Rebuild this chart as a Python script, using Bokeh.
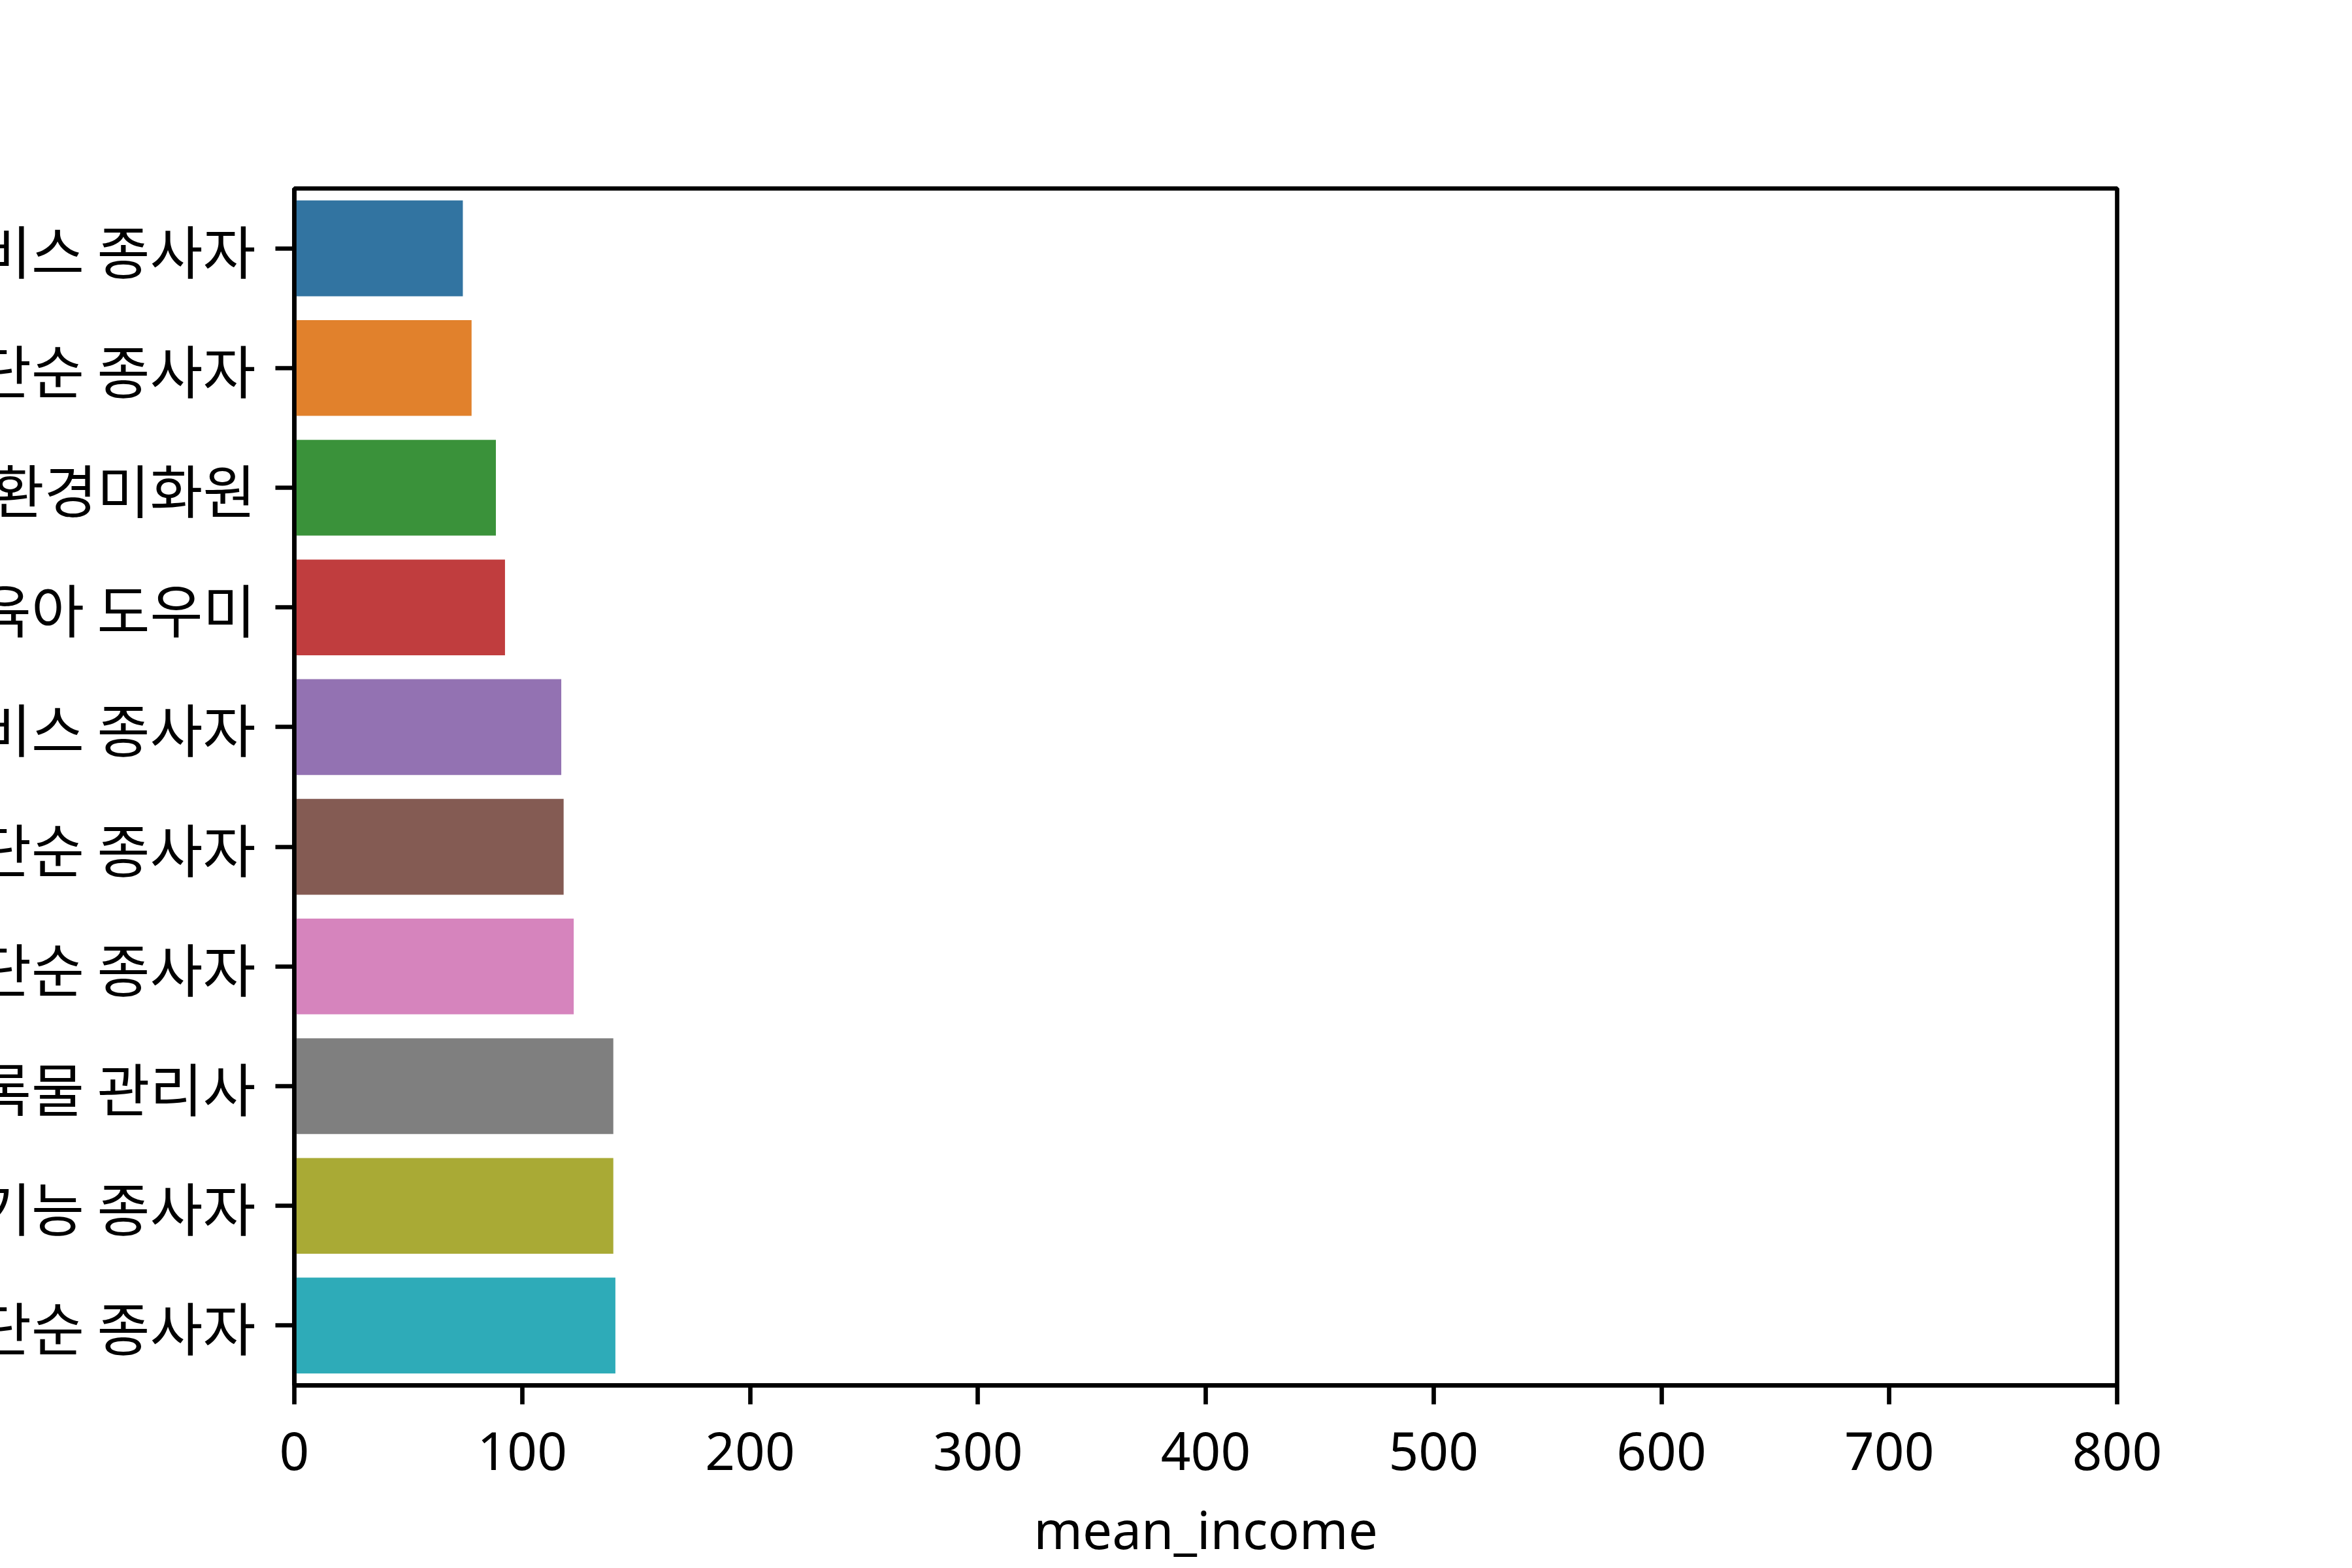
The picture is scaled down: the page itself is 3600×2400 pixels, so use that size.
from bokeh.plotting import figure
from bokeh.models import ColumnDataSource, FactorRange, Range1d, FixedTicker
from bokeh.embed import file_html
from bokeh.resources import INLINE

# ---- data ----
jobs = [
    "기타 돌봄∙보건 및 개인 생활 서비스 종사자",
    "기타 서비스 관련 단순 종사자",
    "청소원 및 환경미화원",
    "가사 및 육아 도우미",
    "돌봄 및 보건 서비스 종사자",
    "음식 관련 단순 종사자",
    "농림ㆍ어업 관련 단순 종사자",
    "학예사, 사서 및 기록물 관리사",
    "채굴 및 토목 관련 기능 종사자",
    "판매 관련 단순 종사자",
]
mean_income = [73.96, 77.79, 88.46, 92.46, 117.16, 118.19, 122.63, 140.0, 140.0, 140.91]
bar_colors = ["#3274a1", "#e1812c", "#3a923a", "#c03d3e", "#9372b2",
              "#845b53", "#d684bd", "#7f7f7f", "#a9aa35", "#2eabb8"]
x_ticks = [0, 100, 200, 300, 400, 500, 600, 700, 800]
x_label = "mean_income"

src = ColumnDataSource(dict(job=jobs, mean_income=mean_income, color=bar_colors))

# The long category labels run past the left edge of the picture in the reference:
# give the plot a wide left border and shift it left so only the tail of each label shows.
HIDDEN = 1950
LEFT = 450 + HIDDEN

p = figure(
    width=LEFT + 2790 + 344, height=2396,
    y_range=FactorRange(factors=list(reversed(jobs))),
    x_range=Range1d(0, 800),
    output_backend="svg", toolbar_location=None,
    min_border_left=LEFT, min_border_right=344,
    min_border_top=288, min_border_bottom=260,
)
p.styles = {"margin-left": f"-{HIDDEN}px"}
p.hbar(y="job", right="mean_income", left=0, height=0.8, color="color",
       line_color=None, source=src)

LINE_W = 6.67
p.outline_line_color = "black"
p.outline_line_width = LINE_W
p.xgrid.visible = False
p.ygrid.visible = False
p.background_fill_color = "white"
p.border_fill_color = "white"

# x axis
p.xaxis.ticker = FixedTicker(ticks=x_ticks)
p.xaxis.axis_label = x_label
p.xaxis.axis_label_text_font = "Noto Sans"
p.xaxis.axis_label_text_font_style = "normal"
p.xaxis.axis_label_text_font_size = "80px"
p.xaxis.axis_label_text_color = "black"
p.xaxis.axis_label_standoff = 32
p.xaxis.major_label_text_font = "Noto Sans"
p.xaxis.major_label_text_font_size = "80px"
p.xaxis.major_label_text_color = "black"
p.xaxis.major_label_standoff = 42
p.xaxis.major_tick_out = 29
p.xaxis.major_tick_in = 0
p.xaxis.minor_tick_line_color = None
p.xaxis.major_tick_line_width = LINE_W
p.xaxis.axis_line_width = LINE_W

# y axis
p.yaxis.major_tick_out = 29
p.yaxis.major_tick_in = 0
p.yaxis.major_tick_line_width = LINE_W
p.yaxis.axis_line_width = LINE_W
p.yaxis.major_label_text_font = "Noto Sans CJK KR"
p.yaxis.major_label_text_font_size = "88px"
p.yaxis.major_label_text_color = "black"
p.yaxis.major_label_standoff = 30
p.yaxis.minor_tick_line_color = None

open("out.html", "w").write(file_html(p, INLINE))
